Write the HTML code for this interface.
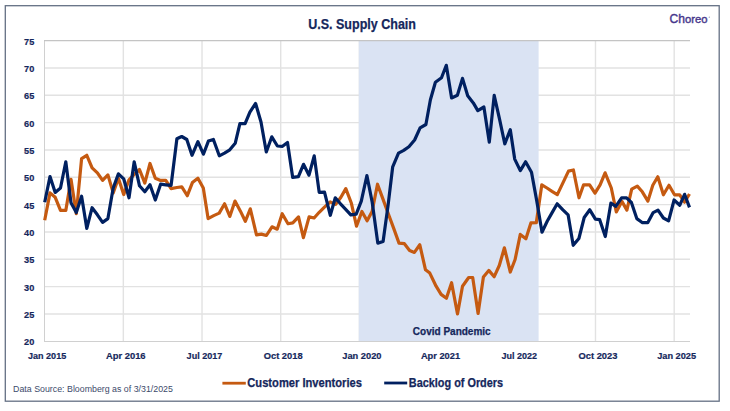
<!DOCTYPE html>
<html><head><meta charset="utf-8"><style>
html,body{margin:0;padding:0;background:#fff;}
svg{display:block;}
text{font-family:"Liberation Sans",sans-serif;}
.ax{font-size:9.9px;font-weight:bold;fill:#15275c;stroke:#15275c;stroke-width:0.2px;}
.bt{stroke:#15275c;stroke-width:0.25px;}
</style></head><body>
<svg width="730" height="411" viewBox="0 0 730 411">
<rect x="0" y="0" width="730" height="411" fill="#ffffff"/>
<rect x="5.3" y="5.7" width="713.9" height="395.5" fill="none" stroke="#647084" stroke-width="1.3"/>
<text x="308.2" y="28.7" font-size="14" font-weight="bold" fill="#15275c" class="bt" textLength="107.8" lengthAdjust="spacingAndGlyphs">U.S. Supply Chain</text>
<text x="669.6" y="22.7" font-size="12" fill="#47378c" textLength="38" lengthAdjust="spacingAndGlyphs" stroke="#47378c" stroke-width="0.4">Ch<tspan font-size="11.2">oreo</tspan></text>
<circle cx="709.3" cy="17.2" r="0.6" fill="#9a93b8"/>
<g stroke="#e2e2e2" stroke-width="1.4" fill="none">
<line x1="44.5" x2="690" y1="314.00" y2="314.00"/>
<line x1="44.5" x2="690" y1="286.66" y2="286.66"/>
<line x1="44.5" x2="690" y1="259.32" y2="259.32"/>
<line x1="44.5" x2="690" y1="231.98" y2="231.98"/>
<line x1="44.5" x2="690" y1="204.64" y2="204.64"/>
<line x1="44.5" x2="690" y1="177.30" y2="177.30"/>
<line x1="44.5" x2="690" y1="149.96" y2="149.96"/>
<line x1="44.5" x2="690" y1="122.62" y2="122.62"/>
<line x1="44.5" x2="690" y1="95.28" y2="95.28"/>
<line x1="44.5" x2="690" y1="67.94" y2="67.94"/>
<line x1="123.34" x2="123.34" y1="40" y2="341"/>
<line x1="202.03" x2="202.03" y1="40" y2="341"/>
<line x1="280.72" x2="280.72" y1="40" y2="341"/>
<line x1="359.41" x2="359.41" y1="40" y2="341"/>
<line x1="438.10" x2="438.10" y1="40" y2="341"/>
<line x1="516.79" x2="516.79" y1="40" y2="341"/>
<line x1="595.48" x2="595.48" y1="40" y2="341"/>
<line x1="674.17" x2="674.17" y1="40" y2="341"/>
</g>
<rect x="358.8" y="41" width="179.8" height="300" fill="#dae3f3"/>
<line x1="44.5" x2="44.5" y1="40" y2="342" stroke="#d0d0d0" stroke-width="1"/>
<line x1="44" x2="690" y1="40.7" y2="40.7" stroke="#c4c4c4" stroke-width="1.3"/>
<line x1="44" x2="690" y1="341.5" y2="341.5" stroke="#d0d0d0" stroke-width="1"/>
<text x="412.8" y="335.1" font-size="10" font-weight="bold" fill="#15275c" class="bt" textLength="77.9" lengthAdjust="spacingAndGlyphs">Covid Pandemic</text>
<text x="34.3" y="345.3" text-anchor="end" class="ax" textLength="10.2" lengthAdjust="spacingAndGlyphs">20</text>
<text x="34.3" y="318.0" text-anchor="end" class="ax" textLength="10.2" lengthAdjust="spacingAndGlyphs">25</text>
<text x="34.3" y="290.6" text-anchor="end" class="ax" textLength="10.2" lengthAdjust="spacingAndGlyphs">30</text>
<text x="34.3" y="263.3" text-anchor="end" class="ax" textLength="10.2" lengthAdjust="spacingAndGlyphs">35</text>
<text x="34.3" y="235.9" text-anchor="end" class="ax" textLength="10.2" lengthAdjust="spacingAndGlyphs">40</text>
<text x="34.3" y="208.6" text-anchor="end" class="ax" textLength="10.2" lengthAdjust="spacingAndGlyphs">45</text>
<text x="34.3" y="181.3" text-anchor="end" class="ax" textLength="10.2" lengthAdjust="spacingAndGlyphs">50</text>
<text x="34.3" y="153.9" text-anchor="end" class="ax" textLength="10.2" lengthAdjust="spacingAndGlyphs">55</text>
<text x="34.3" y="126.6" text-anchor="end" class="ax" textLength="10.2" lengthAdjust="spacingAndGlyphs">60</text>
<text x="34.3" y="99.2" text-anchor="end" class="ax" textLength="10.2" lengthAdjust="spacingAndGlyphs">65</text>
<text x="34.3" y="71.9" text-anchor="end" class="ax" textLength="10.2" lengthAdjust="spacingAndGlyphs">70</text>
<text x="34.3" y="44.6" text-anchor="end" class="ax" textLength="10.2" lengthAdjust="spacingAndGlyphs">75</text>
<text x="28.0" y="359.2" class="ax" textLength="38.2" lengthAdjust="spacingAndGlyphs">Jan 2015</text>
<text x="105.9" y="359.2" class="ax" textLength="39.7" lengthAdjust="spacingAndGlyphs">Apr 2016</text>
<text x="186.6" y="359.2" class="ax" textLength="35.8" lengthAdjust="spacingAndGlyphs">Jul 2017</text>
<text x="263.7" y="359.2" class="ax" textLength="38.9" lengthAdjust="spacingAndGlyphs">Oct 2018</text>
<text x="342.3" y="359.2" class="ax" textLength="39.2" lengthAdjust="spacingAndGlyphs">Jan 2020</text>
<text x="420.9" y="359.2" class="ax" textLength="39.2" lengthAdjust="spacingAndGlyphs">Apr 2021</text>
<text x="501.5" y="359.2" class="ax" textLength="35.5" lengthAdjust="spacingAndGlyphs">Jul 2022</text>
<text x="578.5" y="359.2" class="ax" textLength="38.9" lengthAdjust="spacingAndGlyphs">Oct 2023</text>
<text x="657.2" y="359.2" class="ax" textLength="38.9" lengthAdjust="spacingAndGlyphs">Jan 2025</text>
<polyline points="44.7,220.2 50.0,192.9 55.2,197.3 60.5,210.4 65.8,210.4 71.0,179.3 76.3,213.7 81.6,158.6 86.8,155.3 92.1,167.8 97.4,172.8 102.6,180.4 107.9,174.9 113.2,192.9 118.4,178.2 123.7,194.6 129.0,179.8 134.2,174.4 139.5,169.5 144.8,183.1 150.0,163.5 155.3,178.2 160.6,180.4 165.8,180.4 171.1,188.6 176.9,187.5 181.8,186.9 187.3,195.7 192.4,182.6 197.9,178.2 203.3,188.0 208.1,218.6 213.7,215.6 219.2,213.1 224.6,203.8 229.8,216.4 235.0,201.1 240.3,210.9 245.3,221.3 250.3,208.8 256.5,234.9 261.4,234.1 266.4,235.5 272.0,226.8 277.2,229.2 282.2,213.7 288.0,223.8 292.8,222.9 298.5,216.9 303.4,237.7 309.1,216.9 314.1,218.0 319.2,212.3 324.2,207.4 330.2,201.9 335.7,204.4 340.9,197.3 345.8,188.6 351.4,203.3 356.5,226.2 361.9,211.5 367.1,220.8 372.1,211.5 377.5,184.2 382.9,198.9 388.3,213.7 393.7,228.4 399.0,243.1 404.4,243.7 409.6,250.5 414.4,252.4 419.8,244.8 425.5,269.8 429.8,273.1 436.1,286.2 441.1,294.4 446.4,298.2 451.6,282.7 457.5,314.0 462.5,286.2 468.7,277.5 472.7,277.5 478.1,313.5 483.4,276.9 488.8,270.4 494.2,276.7 499.3,265.5 504.4,247.8 510.3,272.0 515.1,259.5 520.3,234.4 525.9,238.8 530.9,222.9 536.3,222.7 541.8,184.8 547.0,188.0 552.0,191.3 557.3,194.6 562.8,183.1 568.5,171.1 573.4,170.0 579.0,197.8 583.6,184.8 589.6,184.8 595.0,193.2 600.1,184.8 605.1,172.8 611.3,188.0 616.3,212.0 621.9,201.4 626.9,210.1 631.7,189.1 637.3,186.1 642.3,191.8 647.9,201.1 652.8,185.3 657.8,176.8 663.4,194.8 669.0,185.3 674.5,194.8 679.7,194.8 684.5,202.2 689.5,194.0" fill="none" stroke="#c55a11" stroke-width="3.2" stroke-linejoin="round" stroke-linecap="butt"/>
<polyline points="44.7,202.2 50.0,176.6 55.2,192.4 60.5,188.0 65.8,161.8 71.0,202.8 76.3,212.6 81.6,196.2 86.8,228.4 92.1,207.7 97.4,214.8 102.6,222.4 107.9,218.6 113.2,188.0 118.4,173.8 123.7,178.8 129.0,197.8 134.2,161.8 139.5,185.8 144.8,191.8 150.0,184.8 155.3,200.0 160.6,184.2 165.8,184.8 171.1,185.3 176.9,138.7 181.7,136.5 186.8,139.5 192.0,155.3 197.9,141.7 203.4,154.2 208.4,141.1 213.4,139.5 219.3,155.8 224.5,153.1 229.8,149.8 235.2,143.3 239.9,123.7 245.1,123.7 249.9,112.2 255.6,103.5 261.0,122.0 266.3,152.0 271.8,136.8 277.4,146.0 282.5,146.3 287.5,142.5 292.7,177.4 298.4,176.6 303.5,164.3 309.0,175.2 314.2,155.8 319.2,192.4 324.5,192.1 330.3,215.3 335.3,197.8 340.5,203.8 345.7,209.3 350.8,214.8 356.2,214.2 361.3,201.1 366.9,175.5 372.2,202.2 377.8,243.1 383.1,241.5 388.2,204.4 392.7,166.8 398.5,153.1 403.7,150.4 408.9,146.8 414.6,140.0 420.1,127.8 425.9,124.5 430.4,99.7 435.4,82.2 441.5,77.8 446.3,65.3 451.6,98.0 457.4,95.3 462.5,78.4 467.7,95.8 473.3,102.9 477.8,110.6 483.9,107.0 489.3,142.2 494.2,95.3 499.7,119.8 504.8,143.8 510.3,129.7 514.7,159.1 520.3,170.6 525.6,161.8 531.5,172.2 536.8,201.1 542.0,232.2 547.2,221.3 552.1,212.6 557.2,203.8 562.9,209.8 568.1,214.8 573.2,245.3 578.9,238.5 584.2,217.5 589.8,209.8 595.4,219.1 599.7,219.7 605.3,236.6 610.9,203.0 615.8,206.3 621.6,197.8 626.6,197.8 631.4,202.5 636.8,218.6 642.5,222.7 647.7,222.7 653.2,212.6 658.0,210.1 663.4,218.0 668.6,220.8 674.1,200.0 679.8,205.2 684.6,194.3 689.5,207.4" fill="none" stroke="#002060" stroke-width="3.2" stroke-linejoin="round" stroke-linecap="butt"/>
<line x1="222.4" x2="245.8" y1="383.2" y2="383.2" stroke="#c55a11" stroke-width="2.8"/>
<text x="247.3" y="387.0" font-size="12" font-weight="bold" fill="#15275c" class="bt" textLength="114.6" lengthAdjust="spacingAndGlyphs">Customer Inventories</text>
<line x1="384.2" x2="407.2" y1="383.0" y2="383.0" stroke="#002060" stroke-width="2.8"/>
<text x="408.8" y="386.9" font-size="12" font-weight="bold" fill="#15275c" class="bt" textLength="94.3" lengthAdjust="spacingAndGlyphs">Backlog of Orders</text>
<text x="13.1" y="392.0" font-size="8.3" fill="#3c4a6a" textLength="159.8" lengthAdjust="spacingAndGlyphs">Data Source: Bloomberg as of 3/31/2025</text>
</svg>
</body></html>
